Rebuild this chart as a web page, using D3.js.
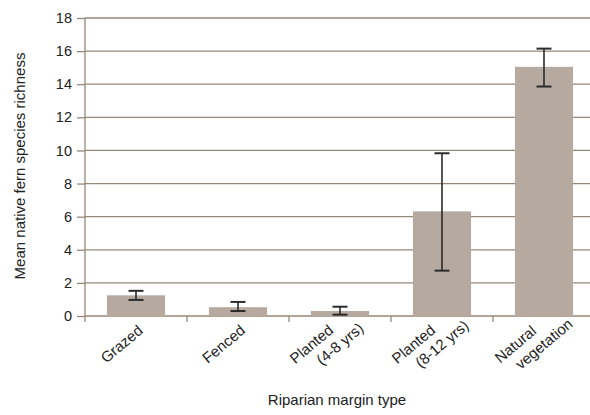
<!DOCTYPE html>
<html>
<head>
<meta charset="utf-8">
<script src="https://cdn.jsdelivr.net/npm/d3@7"></script>
<style>
	body { margin: 0; background: #fff; }
	svg { display: block; font-family: "Liberation Sans", Arial, Helvetica, sans-serif; }
</style>
</head>
<body>
<div id="chart"></div>
<script>
var categories = ["Grazed", "Fenced", "Planted\n(4-8 yrs)", "Planted\n(8-12 yrs)", "Natural\nvegetation"];
var means = [1.25, 0.53, 0.3, 6.32, 15.05];
var errLow = [0.97, 0.3, 0.08, 2.74, 13.86];
var errHigh = [1.52, 0.85, 0.56, 9.83, 16.15];
var yTicks = [0, 2, 4, 6, 8, 10, 12, 14, 16, 18];

var w = 590, h = 415;
var m = { top: 18, right: -5, bottom: 99, left: 85 };

var data = categories.map(function (c, i) {
	return { cat: c, mean: means[i], lo: errLow[i], hi: errHigh[i] };
});

var svg = d3.select('#chart')
			.append('svg')
			.attr('width', w)
			.attr('height', h);

var x = d3.scaleBand()
		.domain(categories)
		.range([m.left, w - m.right])
		.paddingInner(0.43)
		.paddingOuter(0.215);

var y = d3.scaleLinear()
		.domain([0, 18])
		.range([h - m.bottom, m.top]);

var gridColor = '#978779';

// gridlines
svg.append('g')
	.selectAll('line')
	.data(yTicks)
	.enter()
		.append('line')
		.attr('x1', m.left)
		.attr('x2', w)
		.attr('y1', function (d) { return y(d); })
		.attr('y2', function (d) { return y(d); })
		.attr('stroke', gridColor)
		.attr('stroke-width', 1.3);

// y axis
var yAxis = svg.append('g')
	.attr('transform', 'translate(' + m.left + ',0)')
	.call(d3.axisLeft(y).tickValues(yTicks).tickSize(8).tickPadding(5));
yAxis.select('.domain').remove();
yAxis.selectAll('.tick line').attr('stroke', gridColor).attr('stroke-width', 1.3);
yAxis.selectAll('.tick text')
	.attr('fill', '#222')
	.style('font-size', '14.5px')
	.style('font-family', '"Liberation Sans", Arial, sans-serif');

svg.append('line')
	.attr('x1', m.left).attr('x2', m.left)
	.attr('y1', y(18)).attr('y2', y(0) + 6)
	.attr('stroke', gridColor)
	.attr('stroke-width', 1.3);

// x ticks at band boundaries
var bounds = categories.slice(1).map(function (c) {
	return x(c) - x.step() * x.paddingInner() / 2;
});
svg.append('g')
	.selectAll('line')
	.data(bounds)
	.enter()
		.append('line')
		.attr('x1', function (d) { return d; })
		.attr('x2', function (d) { return d; })
		.attr('y1', y(0))
		.attr('y2', y(0) + 6)
		.attr('stroke', gridColor)
		.attr('stroke-width', 1.3);

// bars
svg.append('g')
	.selectAll('rect')
	.data(data)
	.enter()
		.append('rect')
		.attr('x', function (d) { return x(d.cat); })
		.attr('width', x.bandwidth())
		.attr('y', function (d) { return y(d.mean); })
		.attr('height', function (d) { return y(0) - y(d.mean); })
		.attr('fill', '#b5a9a0');

// error bars
var eb = svg.append('g')
	.selectAll('g')
	.data(data)
	.enter()
		.append('g')
		.attr('transform', function (d) { return 'translate(' + (x(d.cat) + x.bandwidth() / 2) + ',0)'; })
		.attr('stroke', '#2b2b2b')
		.attr('stroke-width', 1.6);
eb.append('line')
	.attr('y1', function (d) { return y(d.lo); })
	.attr('y2', function (d) { return y(d.hi); });
eb.append('line')
	.attr('x1', -7.5).attr('x2', 7.5)
	.attr('y1', function (d) { return y(d.hi); })
	.attr('y2', function (d) { return y(d.hi); })
	.attr('stroke-width', 2);
eb.append('line')
	.attr('x1', -7.5).attr('x2', 7.5)
	.attr('y1', function (d) { return y(d.lo); })
	.attr('y2', function (d) { return y(d.lo); })
	.attr('stroke-width', 2);

// category labels, rotated
var lab = svg.append('g')
	.selectAll('g')
	.data(categories)
	.enter()
		.append('g')
		.attr('transform', function (d) {
			return 'translate(' + (x(d) + x.bandwidth() / 2 - 11) + ',' + (y(0) + 32) + ') rotate(-40)';
		});
lab.each(function (d) {
	var lines = d.split('\n');
	var n = lines.length;
	d3.select(this).selectAll('text')
		.data(lines)
		.enter()
			.append('text')
			.attr('text-anchor', 'middle')
			.attr('x', function (l, i) { return (i - (n - 1) / 2) * 22; })
			.attr('y', function (l, i) { return (i - (n - 1) / 2) * 18; })
			.attr('fill', '#222')
			.style('font-size', '15px')
			.text(function (l) { return l; });
});

// axis titles
svg.append('text')
	.attr('transform', 'translate(25,166) rotate(-90)')
	.attr('text-anchor', 'middle')
	.attr('fill', '#222')
	.style('font-size', '15px')
	.text('Mean native fern species richness');

svg.append('text')
	.attr('x', 337)
	.attr('y', 405)
	.attr('text-anchor', 'middle')
	.attr('fill', '#222')
	.style('font-size', '15px')
	.text('Riparian margin type');
</script>
</body>
</html>
